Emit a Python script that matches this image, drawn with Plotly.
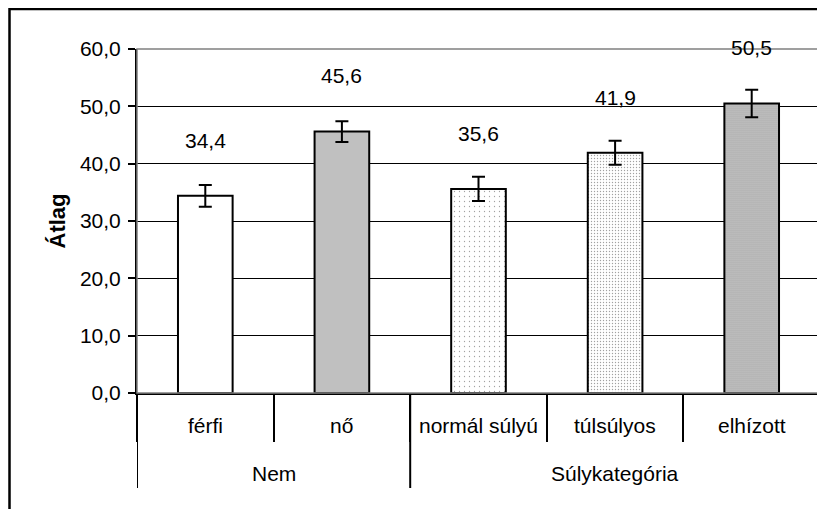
import plotly.graph_objects as go

groups = ["Nem", "Súlykategória"]
group_sizes = [2, 3]
categories = ["férfi", "nő", "normál súlyú", "túlsúlyos", "elhízott"]
means = [34.4, 45.6, 35.6, 41.9, 50.5]
errors = [1.9, 1.8, 2.1, 2.1, 2.4]
y_ticks = [0, 10, 20, 30, 40, 50, 60]

FONT = "Liberation Sans, Arial, sans-serif"
fs = 21

fill_colors = ["white", "#c0c0c0", "white", "white", "#c4c4c4"]
pat_shapes = ["", "", ".", ".", "."]
pat_sizes = [4, 4, 5, 3, 2]
pat_solid = [0.1, 0.1, 0.05, 0.16, 0.22]

# plot area in figure pixels (page has 8px body offset)
W, H = 825, 509
ML, MT, MR, MB = 129, 41, 13, 124
PW, PH = W - ML - MR, H - MT - MB
Y_MAX = 60

def py(px_from_top):
    return (H - MB - px_from_top) / PH

def px(px_from_left):
    return (px_from_left - ML) / PW

fig = go.Figure()
fig.add_trace(go.Bar(
    x=categories,
    y=means,
    width=0.4,
    marker=dict(
        color=fill_colors,
        line=dict(color="black", width=2),
        pattern=dict(shape=pat_shapes, size=pat_sizes, solidity=pat_solid,
                     fgcolor="black", fillmode="overlay"),
    ),
    error_y=dict(type="data", array=errors, color="black", thickness=2, width=6.5),
    showlegend=False,
))

label_offset = 9.7  # in data units above the bar value
for c, m in zip(categories, means):
    fig.add_annotation(x=c, y=m, xref="x", yref="y",
                       yshift=label_offset * PH / Y_MAX,
                       text=f"{m:.1f}".replace(".", ","), showarrow=False,
                       font=dict(family=FONT, size=fs, color="black"))

# category labels (inner level)
for c in categories:
    fig.add_annotation(x=c, y=py(417), xref="x", yref="paper", yanchor="middle",
                       text=c, showarrow=False,
                       font=dict(family=FONT, size=fs, color="black"))

# group labels and dividers
start = 0
bounds = [-0.5]
for g, n in zip(groups, group_sizes):
    center = start + (n - 1) / 2
    fig.add_annotation(x=center, y=py(465), xref="x", yref="paper", yanchor="middle",
                       text=g, showarrow=False,
                       font=dict(family=FONT, size=fs, color="black"))
    start += n
    bounds.append(start - 0.5)
for b in bounds:
    fig.add_shape(type="line", xref="x", yref="paper", x0=b, x1=b, y0=0, y1=py(480),
                  line=dict(color="black", width=2))

fig.update_layout(
    width=W, height=H,
    margin=dict(l=ML, r=MR, t=MT, b=MB, autoexpand=False),
    paper_bgcolor="white", plot_bgcolor="white",
    separators=",.",
    font=dict(family=FONT, size=fs, color="black"),
)
fig.update_yaxes(
    range=[0, Y_MAX], tickvals=y_ticks, tickformat=".1f",
    showgrid=True, gridcolor="black", gridwidth=1,
    showline=True, linecolor="black", linewidth=2,
    ticks="outside", ticklen=7, tickwidth=1.5, tickcolor="black",
    ticklabelstandoff=3,
    title=dict(text="<b>Átlag</b>", standoff=8, font=dict(family=FONT, size=22)),
    zeroline=False,
)
fig.update_xaxes(
    range=[-0.5, 4.5],
    showline=True, linecolor="black", linewidth=2,
    ticks="outside", ticklen=47, tickwidth=2, tickcolor="black",
    tickson="boundaries", showticklabels=False,
    showgrid=False,
)
# plot-area border (grey) and outer chart border
fig.add_shape(type="rect", xref="paper", yref="paper", x0=0, x1=1, y0=0, y1=1,
              line=dict(color="#808080", width=1.5), layer="above")
fig.add_shape(type="rect", xref="paper", yref="paper",
              x0=px(1.5), x1=px(850), y0=py(530), y1=py(1),
              line=dict(color="black", width=2.5))
fig.write_html("out.html")
